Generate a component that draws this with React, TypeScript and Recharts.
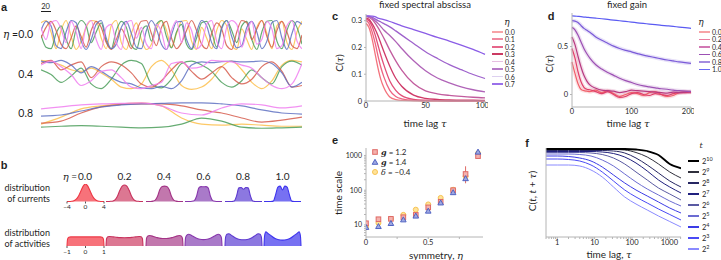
import {
  LineChart, Line, AreaChart, Area, ScatterChart, Scatter, ErrorBar,
  XAxis, YAxis, ZAxis,
} from 'recharts'
import type { ReactNode, CSSProperties } from 'react'

const SANS = 'Lato, "Open Sans", "DejaVu Sans", sans-serif'
const SERIF = '"DejaVu Serif", "Liberation Serif", serif'
const BOLD = '"Liberation Sans", Arial, sans-serif'
const INK = '#1f1f1f'
const AXIS = '#b4b4b4'

// ---------- panel a: example traces at three symmetry levels
const TRACE_KEYS = ['yellow', 'green', 'red', 'blue', 'magenta']
const TRACE_COLORS: Record<string, string> = {
  blue: '#5f71c2', red: '#d65c4c', green: '#4b9d5b', yellow: '#fdc04c', magenta: '#f07ef0',
}
const A_TIME_FAST = Array.from({ length: 53 }, (_, i) => i * 10)
const A_TIME_MID = Array.from({ length: 27 }, (_, i) => i * 20)
const A_TIME_SLOW = Array.from({ length: 14 }, (_, i) => i * 40)

const A0_BLUE = [0.3, 0.9, 0.6, -0.7, -0.9, 0.2, 0.95, 0.8, -0.4, -0.95, -0.3, 0.7, 0.95, -0.2, -0.9, -0.6, 0.5, 0.9, 0.1, -0.8, -0.9, 0.3, 0.95, 0.4, -0.6, -0.95, 0.0, 0.85, 0.9, -0.3, -0.9, 0.2, 0.95, 0.6, -0.5, -0.9, 0.4, 0.95, -0.1, -0.85, -0.7, 0.5, 0.9, 0.2, -0.9, -0.4, 0.8, 0.95, -0.2, -0.95, 0.1, 0.9, 0.7]
const A0_RED = [-0.2, 0.5, 0.9, 0.3, -0.6, -0.9, -0.2, 0.6, -0.1, -0.8, 0.3, 0.9, 0.5, -0.5, -0.95, -0.3, 0.4, -0.2, -0.9, 0.2, 0.9, 0.95, 0.1, -0.7, 0.5, 0.9, -0.2, -0.9, -0.5, 0.3, 0.95, 0.3, -0.6, -0.9, 0.1, 0.8, 0.4, -0.7, -0.95, 0.2, 0.95, 0.8, -0.3, 0.4, 0.95, -0.1, -0.8, 0.3, 0.9, 0.2, -0.7, -0.9, 0.0]
const A0_GREEN = [0.0, -0.8, -0.9, 0.1, 0.6, -0.3, -0.9, 0.4, 0.95, 0.6, -0.5, 0.2, 0.8, -0.4, -0.9, 0.3, 0.9, 0.5, -0.7, -0.95, 0.2, 0.6, -0.4, 0.7, 0.95, -0.1, -0.85, 0.2, 0.7, -0.6, -0.95, -0.2, 0.8, 0.9, 0.2, -0.8, 0.5, 0.95, 0.3, -0.5, 0.6, 0.9, -0.3, -0.95, 0.2, 0.9, 0.95, -0.4, -0.9, 0.3, 0.95, 0.5, -0.6]
const A0_YELLOW = [0.8, 0.95, 0.2, -0.9, 0.3, 0.95, -0.1, -0.95, -0.4, 0.5, 0.95, 0.9, -0.2, -0.9, 0.6, 0.95, -0.5, -0.95, 0.1, 0.8, -0.3, -0.95, -0.6, 0.4, 0.95, 0.3, -0.8, 0.1, 0.9, 0.95, -0.4, -0.95, 0.5, -0.2, -0.9, 0.3, 0.95, 0.6, -0.7, -0.95, 0.4, -0.3, -0.95, 0.5, 0.95, 0.1, -0.9, 0.6, 0.9, -0.5, -0.95, 0.2, 0.9]
const A0_MAGENTA = [0.5, -0.3, 0.8, 0.95, 0.4, -0.5, 0.9, 0.2, -0.9, 0.6, 0.95, -0.3, -0.95, 0.5, 0.7, -0.5, -0.95, 0.8, 0.95, -0.2, 0.5, -0.6, -0.9, 0.7, 0.2, -0.95, 0.3, 0.95, -0.5, 0.8, 0.3, -0.9, -0.6, 0.7, 0.95, -0.4, -0.9, 0.5, 0.95, 0.7, -0.8, 0.2, 0.9, -0.6, -0.3, 0.9, 0.4, -0.9, -0.7, 0.6, 0.95, -0.4, -0.9]

const A4_BLUE = [0.85, 0.75, 0.9, 0.6, 0.1, 0.5, 0.2, -0.2, -0.5, -0.6, -0.85, -0.9, -0.75, -0.9, -0.4, 0.6, 0.8, 0.75, 0.82, 0.85, 0.8, 0.82, 0.86, 0.7, 0.1, -0.8, -0.5]
const A4_RED = [0.7, 0.9, 0.3, 0.6, 0.8, -0.2, 0.5, 0.8, 0.6, 0.1, -0.6, -0.8, -0.4, 0.3, 0.8, 0.2, -0.3, 0.1, 0.5, -0.2, -0.6, -0.3, 0.5, 0.8, 0.2, -0.8, -0.7]
const A4_GREEN = [0.3, 0.0, -0.5, -0.1, 0.4, -0.6, -0.9, -0.3, 0.6, 0.9, 0.7, -0.6, -0.85, -0.3, 0.7, 0.85, 0.6, 0.2, -0.5, -0.8, -0.4, 0.3, -0.2, -0.6, 0.5, 0.85, 0.6]
const A4_YELLOW = [0.9, 0.8, 0.6, 0.3, 0.2, 0.4, 0.1, -0.3, -0.8, -0.9, -0.6, 0.5, 0.9, 0.3, -0.7, -0.95, -0.8, -0.3, 0.5, 0.85, 0.3, -0.5, -0.9, -0.4, 0.6, 0.9, 0.8]
const A4_MAGENTA = [0.6, 0.85, 0.5, 0.0, -0.7, -0.4, 0.2, 0.3, -0.2, -0.8, -0.9, -0.7, -0.5, 0.7, 0.8, 0.4, 0.5, 0.9, 0.85, 0.8, 0.6, 0.4, -0.2, -0.7, -0.9, -0.6, 0.7]

const A8_BLUE = [-0.2, -0.13, 0.13, 0.4, 0.53, 0.6, 0.63, 0.67, 0.67, 0.6, 0.47, 0.2, 0, -0.07]
const A8_RED = [-0.67, -0.53, 0, 0.4, 0.57, 0.6, 0.6, 0.47, 0.2, 0, -0.33, -0.6, -0.47, -0.27]
const A8_GREEN = [-0.93, -0.87, -0.83, -0.87, -0.93, -0.97, -0.93, -0.73, -0.33, -0.53, -0.93, -1, -0.97, -0.93]
const A8_YELLOW = [-0.73, -0.27, 0.27, 0.47, 0.6, 0.67, 0.47, -0.33, -0.73, -0.8, -0.73, -0.8, -0.87, -0.87]
const A8_MAGENTA = [0.27, 0.4, 0.53, 0.6, 0.63, 0.67, 0.47, 0, -0.13, 0.33, 0.6, 0.53, 0.33, 0.47]

// ---------- panel b: distributions of currents and activities
const B_ETAS = ['0.0', '0.2', '0.4', '0.6', '0.8', '1.0']
const B_FILL = ['#f7727a', '#dc7792', '#c277ad', '#a97ac9', '#8c78e0', '#7771f2']
const B_STROKE = ['#ee3845', '#c8325d', '#a43486', '#8838ad', '#5e3ad0', '#3e34ee']
const CUR_X = [-4, -3.5, -3, -2.5, -2, -1.5, -1, -0.5, 0, 0.5, 1, 1.5, 2, 2.5, 3, 3.5, 4]
const CUR_DENS = [
  [0, 0, 0.01, 0.04, 0.13, 0.32, 0.6, 0.88, 1, 0.88, 0.6, 0.32, 0.13, 0.04, 0.01, 0, 0],
  [0, 0, 0.01, 0.03, 0.11, 0.32, 0.64, 0.88, 0.94, 0.88, 0.64, 0.32, 0.11, 0.03, 0.01, 0, 0],
  [0, 0, 0, 0.02, 0.08, 0.3, 0.68, 0.86, 0.88, 0.86, 0.68, 0.3, 0.08, 0.02, 0, 0, 0],
  [0, 0, 0, 0.01, 0.05, 0.3, 0.78, 0.85, 0.84, 0.85, 0.78, 0.3, 0.05, 0.01, 0, 0, 0],
  [0, 0, 0, 0, 0.03, 0.32, 0.78, 0.8, 0.7, 0.8, 0.78, 0.32, 0.03, 0, 0, 0, 0],
  [0, 0, 0, 0, 0.02, 0.38, 0.82, 0.88, 0.66, 0.88, 0.82, 0.38, 0.02, 0, 0, 0, 0],
]
const ACT_X = [-1, -0.97, -0.9, -0.8, -0.6, -0.4, -0.2, 0, 0.2, 0.4, 0.6, 0.8, 0.9, 0.97, 1]
const ACT_DENS = [
  [0, 0.75, 0.95, 1, 1, 1, 1, 1, 1, 1, 1, 1, 0.95, 0.75, 0],
  [0, 0.8, 1.02, 1.05, 1.0, 0.95, 0.92, 0.91, 0.92, 0.95, 1.0, 1.05, 1.02, 0.8, 0],
  [0, 0.85, 1.1, 1.15, 1.05, 0.92, 0.84, 0.82, 0.84, 0.92, 1.05, 1.15, 1.1, 0.85, 0],
  [0, 0.9, 1.2, 1.3, 1.1, 0.88, 0.75, 0.7, 0.75, 0.88, 1.1, 1.3, 1.2, 0.9, 0],
  [0, 0.95, 1.3, 1.35, 1.1, 0.85, 0.72, 0.68, 0.72, 0.85, 1.1, 1.35, 1.3, 0.95, 0],
  [0, 1.1, 1.55, 1.4, 1.1, 0.82, 0.68, 0.65, 0.68, 0.82, 1.1, 1.4, 1.55, 1.1, 0],
]

// ---------- panel c: fixed spectral abscissa
const C_TAU = [0, 2.5, 5, 7.5, 10, 12.5, 15, 20, 25, 30, 40, 50, 60, 70, 80, 90, 100]
const C_ETAS = ['0.0', '0.1', '0.2', '0.3', '0.4', '0.5', '0.6', '0.7']
const C_COLORS = ['#f4727c', '#ee6482', '#e24e78', '#cf3a68', '#c25c9e', '#b064b8', '#9e62cc', '#8a5ce6']
const C_LEGEND = ['#f7a3a6', '#ef8aa0', '#e6668a', '#cb3a62', '#e6bfe0', '#b67bc6', '#ddd0f0', '#9a70ea']
const C_CURVES = [
  [0.29, 0.275, 0.235, 0.18, 0.125, 0.08, 0.05, 0.015, 0.005, 0.002, 0.001, 0, 0, 0, 0, 0, 0],
  [0.3, 0.29, 0.26, 0.22, 0.17, 0.125, 0.09, 0.04, 0.017, 0.008, 0.002, 0.001, 0.001, 0, 0, 0, 0],
  [0.305, 0.3, 0.28, 0.25, 0.21, 0.17, 0.135, 0.075, 0.04, 0.02, 0.006, 0.003, 0.002, 0.001, 0.001, 0.001, 0.001],
  [0.31, 0.305, 0.29, 0.27, 0.245, 0.215, 0.185, 0.13, 0.085, 0.055, 0.022, 0.01, 0.006, 0.004, 0.003, 0.003, 0.002],
  [0.315, 0.312, 0.305, 0.292, 0.275, 0.256, 0.235, 0.19, 0.15, 0.115, 0.065, 0.038, 0.027, 0.021, 0.017, 0.014, 0.012],
  [0.316, 0.315, 0.31, 0.3, 0.29, 0.278, 0.265, 0.245, 0.222, 0.196, 0.15, 0.113, 0.086, 0.068, 0.053, 0.042, 0.034],
  [0.317, 0.316, 0.313, 0.307, 0.3, 0.295, 0.289, 0.277, 0.262, 0.246, 0.215, 0.184, 0.159, 0.136, 0.117, 0.099, 0.084],
  [0.318, 0.318, 0.317, 0.315, 0.31, 0.307, 0.304, 0.297, 0.289, 0.281, 0.267, 0.2525, 0.2375, 0.224, 0.209, 0.1925, 0.174],
]

// ---------- panel d: fixed gain
const D_TAU = [0, 5, 10, 15, 20, 25, 30, 40, 50, 60, 70, 80, 90, 100, 110, 120, 130, 140, 150, 160, 170, 180, 190, 200]
const D_ETAS = ['0.0', '0.2', '0.4', '0.6', '0.8', '1.0']
const D_COLORS = ['#f0606a', '#e0406a', '#b83a80', '#9c50b4', '#7a5ad8', '#5a5af2']
const D_LEGEND = ['#f7a3a6', '#ea7ea0', '#d278b4', '#9c50b4', '#a48ce0', '#6a6af4']
const D_CURVES = [
  [0.34, 0.22, 0.115, 0.055, 0.04, 0.035, 0.03, 0.045, 0.02, 0.04, 0.01, -0.02, 0.0, 0.02, 0.01, -0.01, 0.02, 0.03, 0.0, -0.02, -0.01, 0.02, 0.03, 0.02],
  [0.48, 0.38, 0.24, 0.135, 0.075, 0.055, 0.05, 0.03, 0.01, 0.03, 0.0, -0.03, -0.02, 0.01, 0.02, 0.0, -0.01, 0.01, 0.0, -0.01, 0.01, 0.02, 0.02, 0.03],
  [0.6, 0.52, 0.4, 0.29, 0.2, 0.14, 0.1, 0.065, 0.045, 0.04, 0.035, 0.02, 0.03, 0.045, 0.04, 0.035, 0.03, 0.025, 0.02, 0.015, 0.025, 0.02, 0.025, 0.03],
  [0.7, 0.675, 0.62, 0.55, 0.48, 0.425, 0.38, 0.31, 0.265, 0.23, 0.2, 0.17, 0.145, 0.125, 0.105, 0.09, 0.08, 0.07, 0.06, 0.055, 0.045, 0.04, 0.035, 0.03],
  [0.77, 0.765, 0.75, 0.72, 0.69, 0.67, 0.65, 0.6, 0.565, 0.535, 0.505, 0.48, 0.46, 0.445, 0.427, 0.41, 0.397, 0.385, 0.372, 0.36, 0.35, 0.34, 0.332, 0.325],
  [0.82, 0.818, 0.815, 0.812, 0.808, 0.805, 0.802, 0.796, 0.79, 0.783, 0.776, 0.769, 0.762, 0.755, 0.748, 0.741, 0.735, 0.728, 0.722, 0.716, 0.71, 0.703, 0.697, 0.69],
]

// ---------- panel e: time scale vs symmetry
const E_ETA = [0, 0.1, 0.2, 0.3, 0.4, 0.5, 0.6, 0.7, 0.8, 0.9]
const E_G12 = [11.2, 14.6, 15, 16.7, 19.5, 32, 46.5, 100, 293, 957]
const E_G12_ERR = [[0, 0], [0, 0], [0, 0], [0, 0], [0, 0], [0, 0], [0, 0], [0, 0], [135, 195], [60, 80]]
const E_G14 = [8.5, 9, 11, 14, 18, 25, 43, 85, 215, 1250]
const E_D04 = [9, 11.4, 15, 19.5, 27.5, 39, 60, 103, 250, 1150]
const E_YTICKS = [5, 6, 7, 8, 9, 10, 20, 30, 40, 50, 60, 70, 80, 90, 100, 200, 300, 400, 500, 600, 700, 800, 900, 1000]

// ---------- panel f: aging, C(t, t+tau)
const F_TAU = [0.5, 1, 2, 4, 8, 16, 32, 64, 128, 256, 512, 1024, 2048]
const F_AGES = ['10', '9', '8', '7', '6', '5', '4', '3', '2']
const F_COLORS = ['#000000', '#30303c', '#262662', '#20207e', '#5a5aa2', '#6c6cd2', '#3c3ce6', '#4a4af5', '#8a8aff']
const F_CURVES = [
  [88, 88, 88, 88, 88, 88, 88, 88, 87.5, 86, 82, 73, 68.7],
  [87.5, 87.5, 87.5, 87.5, 87.5, 87.5, 87.5, 87, 84.5, 80, 73, 65, 59],
  [86.5, 86.5, 86.5, 86.5, 86.5, 86.5, 86, 84, 79, 72, 64, 56, 50],
  [85.5, 85.5, 85.5, 85.5, 85.5, 85, 83.5, 80, 74, 66, 57, 50, 44],
  [84.5, 84.5, 84.5, 84.5, 84, 82.5, 79, 73, 65, 57, 49, 43, 37],
  [83, 83, 83, 82.5, 81, 77, 71, 63, 55, 48, 42, 36, 31],
  [81, 81, 80.5, 79, 76, 70, 62, 54, 47, 41, 35, 29, 24],
  [78, 78, 77.5, 76, 72, 65, 56, 47, 40, 34, 28, 22.5, 17],
  [72, 72, 72, 71, 67, 60, 50, 40, 33, 27, 21, 15.5, 10],
]
const F_XTICKS = [0.5, 0.6, 0.7, 0.8, 0.9, 1, 2, 3, 4, 5, 6, 7, 8, 9, 10, 20, 30, 40, 50, 60, 70, 80, 90, 100, 200, 300, 400, 500, 600, 700, 800, 900, 1000, 2000]

function table(xKey: string, xs: number[], cols: Record<string, number[]>) {
  return xs.map((x, i) => {
    const row: Record<string, number> = { [xKey]: x }
    for (const k of Object.keys(cols)) {
      if (cols[k][i] !== undefined) row[k] = cols[k][i]
    }
    return row
  })
}

function At({ x, y, children }: { x: number; y: number; children: ReactNode }) {
  return <div style={{ position: 'absolute', left: x, top: y }}>{children}</div>
}

function Txt({ x, y, children, size = 10, anchor = 'middle', rotate = 0, font = SANS, style }: {
  x: number; y: number; children: ReactNode; size?: number; anchor?: 'start' | 'middle' | 'end'
  rotate?: number; font?: string; style?: CSSProperties
}) {
  const tx = anchor === 'start' ? '0%' : anchor === 'end' ? '-100%' : '-50%'
  return (
    <div style={{
      position: 'absolute', left: x, top: y, transform: `translate(${tx}, -50%) rotate(${rotate}deg)`,
      fontSize: size, fontFamily: font, color: INK, whiteSpace: 'nowrap', lineHeight: 1, ...style,
    }}>{children}</div>
  )
}

const Eta = () => <span style={{ fontFamily: SERIF, fontStyle: 'italic', lineHeight: 1 }}>η</span>
const Tau = () => <span style={{ fontFamily: SERIF, fontStyle: 'italic', lineHeight: 1 }}>τ</span>

const tickStyle = { fontSize: 7.5, fill: INK, fontFamily: SANS }

function TraceRow({ top, height, xs, cols }: { top: number; height: number; xs: number[]; cols: Record<string, number[]> }) {
  const data = table('t', xs, cols)
  return (
    <At x={41} y={top}>
      <LineChart width={261} height={height} data={data} margin={{ top: 0, right: 0, bottom: 0, left: 0 }}>
        <XAxis type="number" dataKey="t" domain={[0, 520]} hide />
        <YAxis domain={[-1.05, 1.05]} hide />
        {TRACE_KEYS.map((k) => (
          <Line key={k} dataKey={k} type="monotone" stroke={TRACE_COLORS[k]} strokeWidth={1.2}
            strokeOpacity={0.85} dot={false} isAnimationActive={false} />
        ))}
      </LineChart>
    </At>
  )
}

function Dist({ left, top, xs, ys, idx, domainX, yMax, plotH, ticks }: {
  left: number; top: number; xs: number[]; ys: number[]; idx: number
  domainX: [number, number]; yMax: number; plotH: number; ticks?: number[]
}) {
  const data = table('x', xs, { d: ys })
  return (
    <At x={left - 6} y={top}>
      <AreaChart width={49} height={plotH + (ticks ? 10 : 0)} data={data} margin={{ top: 0, right: 6, bottom: 0, left: 6 }}>
        {ticks ? (
          <XAxis type="number" dataKey="x" domain={domainX} ticks={ticks} axisLine={false} tickSize={2}
            tickMargin={1} height={10} interval={0} stroke="#555"
            tickFormatter={(v: number) => (v < 0 ? `−${-v}` : String(v))}
            tick={{ fontSize: 6.5, fill: INK, fontFamily: SANS }} />
        ) : (
          <XAxis type="number" dataKey="x" domain={domainX} hide />
        )}
        <YAxis domain={[0, yMax]} hide />
        <Area dataKey="d" type="monotone" stroke={B_STROKE[idx]} strokeWidth={1.1}
          fill={B_FILL[idx]} fillOpacity={1} isAnimationActive={false} />
      </AreaChart>
    </At>
  )
}

const squareShape = (p: any) => (
  <rect x={p.cx - 2.3} y={p.cy - 2.3} width={4.6} height={4.6} fill="#f4b2ae" stroke="#df6a66" strokeWidth={1} />
)
const triangleShape = (p: any) => (
  <path d={`M${p.cx},${p.cy - 3} L${p.cx + 2.8},${p.cy + 2} L${p.cx - 2.8},${p.cy + 2} Z`} fill="#9ea8e2" stroke="#5163c2" strokeWidth={1} />
)
const circleShape = (p: any) => (
  <circle cx={p.cx} cy={p.cy} r={2.5} fill="#ffe39a" stroke="#f7c352" strokeWidth={1} />
)

const fTick = (p: any) => {
  const v = p.payload.value
  const show = v === 1 || v === 10 || v === 100 || v === 1000
  return show ? (
    <text x={p.x} y={p.y} dy="0.71em" textAnchor="middle" fontSize={7.5} fill={INK} fontFamily={SANS}>{v}</text>
  ) : <g />
}

export default function App() {
  const cData = table('tau', C_TAU, Object.fromEntries(C_CURVES.map((c, i) => [`e${i}`, c])))
  const dData = table('tau', D_TAU, Object.fromEntries(D_CURVES.map((c, i) => [`e${i}`, c])))
  const fData = table('tau', F_TAU, Object.fromEntries(F_CURVES.map((c, i) => [`t${i}`, c])))
  const eG12 = E_ETA.map((x, i) => ({ eta: x, v: E_G12[i], err: E_G12_ERR[i] }))
  const eG14 = E_ETA.map((x, i) => ({ eta: x, v: E_G14[i] }))
  const eD04 = E_ETA.map((x, i) => ({ eta: x, v: E_D04[i] }))
  const distCenters = B_ETAS.map((_, i) => 85 + i * 39.5)

  return (
    <div style={{ position: 'absolute', left: 0, top: 0, width: 721, height: 260, overflow: 'hidden', background: '#fff', fontFamily: SANS }}>
      {/* panel a */}
      <Txt x={4} y={7} size={11} font={BOLD} style={{ fontWeight: 700 }}>a</Txt>
      <Txt x={45.5} y={7} size={7.5}>20</Txt>
      <div style={{ position: 'absolute', left: 41, top: 11, width: 10, height: 1.2, background: INK }} />
      <Txt x={18} y={34} size={10.5} anchor="end"><Eta /> =</Txt>
      <Txt x={33} y={34} size={10.5} anchor="end">0.0</Txt>
      <Txt x={33} y={74} size={10.5} anchor="end">0.4</Txt>
      <Txt x={33} y={113} size={10.5} anchor="end">0.8</Txt>
      <TraceRow top={19} height={32} xs={A_TIME_FAST}
        cols={{ blue: A0_BLUE, red: A0_RED, green: A0_GREEN, yellow: A0_YELLOW, magenta: A0_MAGENTA }} />
      <TraceRow top={58} height={33} xs={A_TIME_MID}
        cols={{ blue: A4_BLUE, red: A4_RED, green: A4_GREEN, yellow: A4_YELLOW, magenta: A4_MAGENTA }} />
      <TraceRow top={97} height={32} xs={A_TIME_SLOW}
        cols={{ blue: A8_BLUE, red: A8_RED, green: A8_GREEN, yellow: A8_YELLOW, magenta: A8_MAGENTA }} />

      {/* panel b */}
      <Txt x={4} y={165} size={11} font={BOLD} style={{ fontWeight: 700 }}>b</Txt>
      <Txt x={50} y={187} size={9} anchor="end">distribution</Txt>
      <Txt x={50} y={198} size={9} anchor="end">of currents</Txt>
      <Txt x={50} y={232} size={9} anchor="end">distribution</Txt>
      <Txt x={50} y={243} size={9} anchor="end">of activities</Txt>
      <Txt x={77} y={176} size={10} anchor="end"><Eta /> =</Txt>
      {B_ETAS.map((e, i) => (
        <Txt key={e} x={distCenters[i]} y={176} size={10}>{e}</Txt>
      ))}
      {B_ETAS.map((e, i) => (
        <Dist key={`c${e}`} left={distCenters[i] - 18.5} top={184} xs={CUR_X} ys={CUR_DENS[i]} idx={i}
          domainX={[-4, 4]} yMax={1} plotH={17.5} ticks={i === 0 ? [-4, 0, 4] : undefined} />
      ))}
      {B_ETAS.map((e, i) => (
        <Dist key={`a${e}`} left={distCenters[i] - 18.5} top={231} xs={ACT_X} ys={ACT_DENS[i]} idx={i}
          domainX={[-1, 1]} yMax={1.65} plotH={15} ticks={i === 0 ? [-1, 0, 1] : undefined} />
      ))}

      {/* panel c */}
      <Txt x={335} y={16} size={11} font={BOLD} style={{ fontWeight: 700 }}>c</Txt>
      <Txt x={425} y={4.5} size={9.5}>fixed spectral abscissa</Txt>
      <Txt x={339} y={63} size={10} rotate={-90}>C(<Tau />)</Txt>
      <Txt x={425} y={122.5} size={10}>time lag <Tau /></Txt>
      <At x={344} y={14}>
        <LineChart width={144} height={101} data={cData} margin={{ top: 0, right: 3, bottom: 0, left: 0 }}>
          <XAxis type="number" dataKey="tau" domain={[0, 100]} ticks={[0, 50, 100]} height={14} tickSize={2}
            tickMargin={0} stroke={AXIS} tick={tickStyle} />
          <YAxis domain={[0, 0.325]} ticks={[0, 0.1, 0.2, 0.3]} width={22} tickSize={2} stroke={AXIS}
            tick={tickStyle} tickFormatter={(v: number) => (v === 0 ? '0' : v.toFixed(1))} />
          {C_CURVES.map((_, i) => (
            <Line key={i} dataKey={`e${i}`} type="monotone" stroke={C_COLORS[i]} strokeWidth={1.3}
              dot={false} isAnimationActive={false} />
          ))}
        </LineChart>
      </At>
      <Txt x={507} y={22} size={9} font={SERIF} style={{ fontStyle: 'italic' }}>η</Txt>
      {C_ETAS.map((e, i) => (
        <div key={e}>
          <div style={{ position: 'absolute', left: 492, top: 31 + i * 7.47, width: 11, height: 1.6, background: C_LEGEND[i] }} />
          <Txt x={505} y={31.8 + i * 7.47} size={7} anchor="start">{e}</Txt>
        </div>
      ))}

      {/* panel d */}
      <Txt x={551} y={16} size={11} font={BOLD} style={{ fontWeight: 700 }}>d</Txt>
      <Txt x={627} y={4.5} size={9.5}>fixed gain</Txt>
      <Txt x={549} y={64} size={10} rotate={-90}>C(<Tau />)</Txt>
      <Txt x={628} y={122.5} size={10}>time lag <Tau /></Txt>
      <At x={550} y={13}>
        <LineChart width={144} height={108} data={dData} margin={{ top: 0, right: 3, bottom: 0, left: 0 }}>
          <XAxis type="number" dataKey="tau" domain={[0, 200]} ticks={[0, 100, 200]} height={14} tickSize={2}
            tickMargin={0} stroke={AXIS} tick={tickStyle} />
          <YAxis domain={[-0.13, 0.85]} ticks={[0, 0.5]} width={22} tickSize={2} stroke={AXIS}
            tick={tickStyle} tickFormatter={(v: number) => (v === 0 ? '0' : v.toFixed(1))} />
          {D_CURVES.slice(0, 5).map((_, i) => (
            <Line key={`band${i}`} dataKey={`e${i}`} type="monotone" stroke={D_COLORS[i]} strokeWidth={4}
              strokeOpacity={0.18} dot={false} isAnimationActive={false} />
          ))}
          {D_CURVES.map((_, i) => (
            <Line key={i} dataKey={`e${i}`} type="monotone" stroke={D_COLORS[i]} strokeWidth={1.2}
              dot={false} isAnimationActive={false} />
          ))}
        </LineChart>
      </At>
      <Txt x={701} y={22} size={9} font={SERIF} style={{ fontStyle: 'italic' }}>η</Txt>
      {D_ETAS.map((e, i) => (
        <div key={e}>
          <div style={{ position: 'absolute', left: 699, top: 31 + i * 7.5, width: 11, height: 1.6, background: D_LEGEND[i] }} />
          <Txt x={712} y={31.8 + i * 7.5} size={7} anchor="start">{e}</Txt>
        </div>
      ))}

      {/* panel e */}
      <Txt x={335} y={140} size={11} font={BOLD} style={{ fontWeight: 700 }}>e</Txt>
      <Txt x={338} y={193} size={10} rotate={-90}>time scale</Txt>
      <Txt x={436} y={255} size={10}>symmetry, <Eta /></Txt>
      <At x={340} y={148}>
        <ScatterChart width={147} height={103} margin={{ top: 0, right: 4, bottom: 0, left: 0 }}>
          <XAxis type="number" dataKey="eta" domain={[0, 0.94]} allowDataOverflow ticks={[0, 0.25, 0.5, 0.75]}
            height={14} tickSize={2} tickMargin={1} stroke={AXIS} tick={tickStyle}
            tickFormatter={(v: number) => (v === 0 ? '0' : v === 0.5 ? '0.5' : '')} />
          <YAxis type="number" dataKey="v" scale="log" domain={[4.5, 1640]} allowDataOverflow ticks={E_YTICKS}
            width={26} tickSize={2} stroke={AXIS} interval={0}
            tick={{ fontSize: 7, fill: INK, fontFamily: SANS }}
            tickFormatter={(v: number) => (v === 10 || v === 100 || v === 1000 ? String(v) : '')} />
          <ZAxis range={[20, 20]} />
          <Scatter data={eD04} shape={circleShape} isAnimationActive={false} />
          <Scatter data={eG12} shape={squareShape} isAnimationActive={false}>
            <ErrorBar dataKey="err" direction="y" width={0} stroke="#df6a66" strokeWidth={1} />
          </Scatter>
          <Scatter data={eG14} shape={triangleShape} isAnimationActive={false} />
        </ScatterChart>
      </At>
      <svg style={{ position: 'absolute', left: 370, top: 147 }} width={10} height={30}>
        <rect x={2.7} y={2.7} width={4.6} height={4.6} fill="#f4b2ae" stroke="#df6a66" strokeWidth={1} />
        <path d="M5,12.3 L7.8,17.3 L2.2,17.3 Z" fill="#9ea8e2" stroke="#5163c2" strokeWidth={1} />
        <circle cx={5} cy={25} r={2.5} fill="#ffe39a" stroke="#f7c352" strokeWidth={1} />
      </svg>
      <Txt x={381} y={152} size={8} anchor="start"><b style={{ fontFamily: SERIF, fontStyle: 'italic' }}>g</b> = 1.2</Txt>
      <Txt x={381} y={162.3} size={8} anchor="start"><b style={{ fontFamily: SERIF, fontStyle: 'italic' }}>g</b> = 1.4</Txt>
      <Txt x={381} y={172} size={8} anchor="start"><span style={{ fontFamily: SERIF, fontStyle: 'italic' }}>δ</span> = −0.4</Txt>

      {/* panel f */}
      <Txt x={527} y={143} size={11} font={BOLD} style={{ fontWeight: 700 }}>f</Txt>
      <Txt x={532} y={191} size={10} rotate={-90}>C(<i>t</i>, <i>t</i> + <Tau />)</Txt>
      <Txt x={609} y={254} size={10}>time lag, <Tau /></Txt>
      <At x={545} y={148}>
        <LineChart width={139} height={103} data={fData} margin={{ top: 0, right: 3, bottom: 0, left: 0 }}>
          <XAxis type="number" dataKey="tau" scale="log" domain={[0.5, 2048]} allowDataOverflow ticks={F_XTICKS}
            interval={0} height={14} tickSize={2} tickMargin={1} stroke={AXIS} tick={fTick} />
          <YAxis domain={[0, 89]} tick={false} width={1} stroke={AXIS} />
          {F_CURVES.map((_, i) => F_CURVES.length - 1 - i).map((i) => (
            <Line key={i} dataKey={`t${i}`} type="monotone" stroke={F_COLORS[i]} strokeWidth={i === 0 ? 1.8 : 1}
              dot={false} isAnimationActive={false} />
          ))}
        </LineChart>
      </At>
      <Txt x={701} y={146} size={8} font={SERIF} style={{ fontStyle: 'italic' }}>t</Txt>
      {F_AGES.map((a, i) => (
        <div key={a}>
          <div style={{ position: 'absolute', left: 688, top: 160.2 + i * 11, width: 11, height: i === 0 ? 2 : 1.5, background: F_COLORS[i] }} />
          <Txt x={702} y={161 + i * 11} size={7.5} anchor="start">2<sup style={{ fontSize: 5.5 }}>{a}</sup></Txt>
        </div>
      ))}
    </div>
  )
}
